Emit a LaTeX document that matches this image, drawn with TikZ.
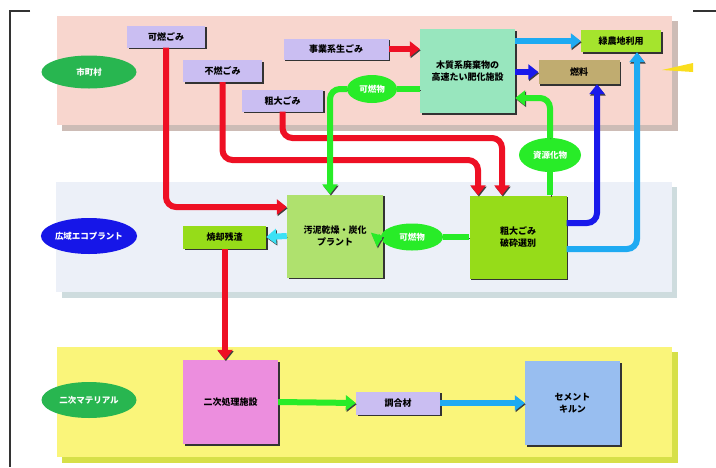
\documentclass[tikz,border=0pt]{standalone}
\usepackage{fontspec}
\setmainfont{Noto Sans CJK JP}
\usetikzlibrary{arrows.meta,shapes.geometric,shadows}
\definecolor{bandpink}{RGB}{248,214,206}
\definecolor{bandpinksh}{RGB}{205,188,182}
\definecolor{bandblue}{RGB}{236,240,248}
\definecolor{bandbluesh}{RGB}{206,220,222}
\definecolor{bandyel}{RGB}{250,245,122}
\definecolor{bandyelsh}{RGB}{214,224,72}
\definecolor{lav}{RGB}{202,190,242}
\definecolor{mint}{RGB}{152,230,190}
\definecolor{ygreen}{RGB}{165,228,45}
\definecolor{tan}{RGB}{192,172,112}
\definecolor{pltgreen}{RGB}{175,225,110}
\definecolor{bulkgreen}{RGB}{150,220,25}
\definecolor{pinkbox}{RGB}{236,142,222}
\definecolor{kilnblue}{RGB}{152,190,240}
\definecolor{egreen}{RGB}{40,182,80}
\definecolor{eblue}{RGB}{22,22,232}
\definecolor{arred}{RGB}{238,16,36}
\definecolor{argreen}{RGB}{40,236,40}
\definecolor{arblue}{RGB}{25,25,235}
\definecolor{arlblue}{RGB}{30,170,242}
\definecolor{arcyan}{RGB}{60,225,245}
\definecolor{wedge}{RGB}{250,222,30}
\tikzset{
  boxbase/.style={rectangle, inner sep=1pt, align=center,
    font=\fontsize{9}{12}\selectfont\bfseries,
    drop shadow={shadow xshift=1.6pt,shadow yshift=-1.6pt,fill=black!80,opacity=1}},
  lbl/.style={boxbase, fill=lav, minimum height=22pt},
  bigbox/.style={boxbase, minimum width=95pt, minimum height=83pt},
  sideell/.style={ellipse, inner sep=0pt, minimum width=95pt, minimum height=34pt,
    text=white, font=\fontsize{8.5}{10}\selectfont\bfseries},
  midell/.style={ellipse, inner sep=0pt, fill=argreen, text=white,
    font=\fontsize{8.5}{10}\selectfont\bfseries},
  fat/.style={line width=6pt, rounded corners=10pt,
    preaction={draw=black!75, transform canvas={shift={(0.9pt,-1.3pt)}}}},
  fatarrow/.style={fat, -{Triangle[length=10pt,width=15pt]}},
}
\begin{document}
\begin{tikzpicture}[x=1pt,y=-1pt]
\useasboundingbox (0,0) rectangle (716,467);
\fill[white] (0,0) rectangle (716,467);
% frame
\draw[black!80, line width=1.2pt] (30,11) -- (10,11) -- (10,467);
\draw[black!80, line width=1.2pt] (693,11) -- (716,11);
% bands
\fill[bandpinksh] (62,21) rectangle (678,131);
\fill[bandpink] (57,16) rectangle (672,125);
\fill[bandbluesh] (62,187) rectangle (677,298);
\fill[bandblue] (56,182) rectangle (672,292);
\fill[bandyelsh] (62,352) rectangle (678,463);
\fill[bandyel] (57,347) rectangle (672,457);
% yellow wedge
\fill[wedge] (662,70) -- (693,63) -- (693,72) -- cycle;
% side ellipses
\node[sideell, fill=egreen, minimum height=33pt] (src) at (89,72) {市町村};
\node[sideell, fill=eblue, minimum height=36pt] (eco) at (89,236) {広域エコプラント};
\node[sideell, fill=egreen, minimum height=36pt] (mat) at (89,400) {二次マテリアル};
% top labels
\node[lbl, minimum width=78pt] (kanen) at (166,36.5) {可燃ごみ};
\node[lbl, minimum width=79pt] (funen) at (222.5,71) {不燃ごみ};
\node[lbl, minimum width=81pt] (sodai) at (282.5,100.5) {粗大ごみ};
\node[lbl, minimum width=105pt, minimum height=21pt] (jigyo) at (336,49) {事業系生ごみ};
% boxes
\node[bigbox, fill=mint, minimum height=84pt] (compost) at (467.5,71) {木質系廃棄物の\\高速たい肥化施設};
\node[boxbase, fill=ygreen, minimum width=80pt, minimum height=22pt] (ryoku) at (621,41) {緑農地利用};
\node[boxbase, fill=tan, minimum width=81pt, minimum height=24pt] (nenryo) at (579,72) {燃料};
\node[bigbox, fill=pltgreen, minimum width=96pt] (thermal) at (335,236) {汚泥乾燥・炭化\\プラント};
\node[bigbox, fill=bulkgreen, minimum width=97pt] (bulky) at (518,237) {粗大ごみ\\破砕選別};
\node[boxbase, fill=bulkgreen, minimum width=83pt, minimum height=23pt] (zansa) at (224.5,237) {焼却残渣};
\node[bigbox, fill=pinkbox, minimum height=84pt] (pink) at (230.5,402) {二次処理施設};
\node[lbl, minimum width=84pt, minimum height=23pt] (mix) at (398,403) {調合材};
\node[bigbox, fill=kilnblue, minimum height=84pt] (kiln) at (572.5,403) {セメント\\キルン};
% green ellipses
\node[midell, minimum width=50pt, minimum height=28pt] (e1) at (372,89) {可燃物};
\node[midell, minimum width=62pt, minimum height=27pt] (e2) at (412,237) {可燃物};
\node[midell, minimum width=62pt, minimum height=34pt] (e3) at (550,155) {資源化物};
% helper corners
\coordinate (f1) at (478,160);
\coordinate (s1) at (502,138);
% red arrows
\draw[fatarrow, arred] (kanen.south) |- ([yshift=29pt]thermal.west);
\draw[fatarrow, arred] (funen.south) |- (f1) -- ([xshift=-40pt]bulky.north);
\draw[fatarrow, arred] (sodai.south) |- (s1) -- ([xshift=-16pt]bulky.north);
\draw[fatarrow, arred] (jigyo.east) -- (jigyo.east -| compost.west);
\draw[fatarrow, arred] ([xshift=0.5pt]zansa.south) -- ([xshift=0.5pt]zansa.south |- pink.north);
% green arrows
\draw[fat, argreen] ([yshift=-18pt]compost.west) -- (e1.east);
\draw[fatarrow, argreen] (e1.west) -| ([xshift=-5pt]thermal.north);
\draw[fat, argreen] (bulky.west) -- (e2.east);
\draw[fatarrow, argreen] (e2.west) -- (thermal.east);
\draw[fat, argreen] ([xshift=32pt]bulky.north) -- (e3.south);
\draw[fatarrow, argreen] (e3.north) |- ([yshift=-27pt]compost.east);
\draw[fatarrow, argreen] (pink.east) -- (mix.west);
% blue arrows
\draw[fatarrow, arblue] (compost.east |- nenryo.west) -- (nenryo.west);
\draw[fatarrow, arblue] ([yshift=14pt]bulky.east) -| ([xshift=18pt]nenryo.south);
% light blue arrows
\draw[fatarrow, arlblue] (compost.east |- ryoku.west) -- (ryoku.west);
\draw[fatarrow, arlblue] ([yshift=-12pt]bulky.east) -| ([xshift=16pt]ryoku.south);
\draw[fatarrow, arcyan] (thermal.west) -- (zansa.east);
\draw[fatarrow, arlblue] (mix.east) -- (kiln.west);
\end{tikzpicture}
\end{document}
